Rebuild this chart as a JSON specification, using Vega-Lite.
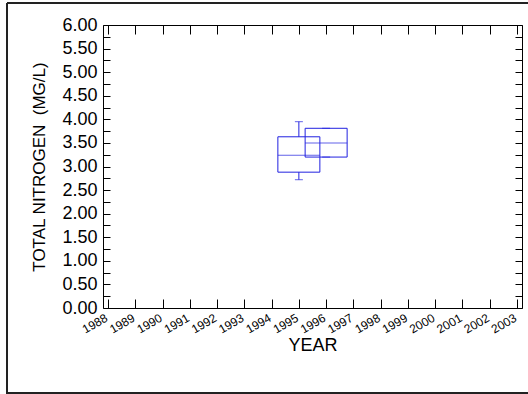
{
  "$schema": "https://vega.github.io/schema/vega-lite/v6.json",
  "autosize": "none",
  "width": 521,
  "height": 390,
  "padding": {"left": 7, "top": 3, "right": 0, "bottom": 1},
  "background": "white",
  "config": {
    "font": "Liberation Sans",
    "view": {"stroke": "#222222", "strokeWidth": 2, "strokeDash": [521, 390, 911, 0]},
    "axis": {"grid": false, "domainColor": "black", "tickColor": "black", "labelColor": "black", "titleColor": "black", "labelFont": "Liberation Sans", "titleFont": "Liberation Sans", "titleFontWeight": "normal", "labelOverlap": false}
  },
  "data": {"values": [
    {"year": 1995, "min": 2.72, "q1": 2.88, "median": 3.24, "q3": 3.63, "max": 3.95},
    {"year": 1996, "min": 3.20, "q1": 3.20, "median": 3.50, "q3": 3.81, "max": 3.81}
  ]},
  "resolve": {"axis": {"x": "independent", "y": "independent"}},
  "layer": [
    {
      "mark": {"type": "rule", "color": "#2020e0", "strokeWidth": 1},
      "encoding": {
        "x": {"field": "year", "type": "quantitative", "scale": {"domain": [1988, 2003], "range": [96, 515], "nice": false, "zero": false},
          "axis": {"orient": "bottom", "offset": -85, "values": [1988,1989,1990,1991,1992,1993,1994,1995,1996,1997,1998,1999,2000,2001,2002,2003], "format": "d", "tickSize": -9, "labelPadding": 21, "labelAngle": -30, "labelAlign": "right", "labelBaseline": "alphabetic", "labelFontSize": 12, "title": "YEAR", "titleFontSize": 18, "titlePadding": 1}},
        "y": {"field": "q3", "type": "quantitative", "scale": {"domain": [0, 6], "range": [305, 22], "nice": false, "zero": true},
          "axis": {"orient": "left", "offset": -96, "values": [0,0.25,0.5,0.75,1,1.25,1.5,1.75,2,2.25,2.5,2.75,3,3.25,3.5,3.75,4,4.25,4.5,4.75,5,5.25,5.5,5.75,6], "labelExpr": "(datum.value * 2) % 1 == 0 ? format(datum.value, '.2f') : ''", "tickSize": -7, "labelPadding": 13, "labelFontSize": 18, "title": "TOTAL NITROGEN \u00a0(MG/L)", "titleFontSize": 17, "titlePadding": 13}},
        "y2": {"field": "max"}
      }
    },
    {
      "mark": {"type": "rule", "color": "#2020e0", "strokeWidth": 1},
      "encoding": {
        "x": {"field": "year", "type": "quantitative",
          "axis": {"orient": "top", "offset": -22, "values": [1988,1989,1990,1991,1992,1993,1994,1995,1996,1997,1998,1999,2000,2001,2002,2003], "labels": false, "tickSize": -9, "title": null}},
        "y": {"field": "min", "type": "quantitative",
          "axis": {"orient": "right", "offset": -6, "values": [0,0.25,0.5,0.75,1,1.25,1.5,1.75,2,2.25,2.5,2.75,3,3.25,3.5,3.75,4,4.25,4.5,4.75,5,5.25,5.5,5.75,6], "labels": false, "tickSize": -7, "title": null}},
        "y2": {"field": "q1"}
      }
    },
    {
      "mark": {"type": "tick", "orient": "horizontal", "color": "#2020e0", "size": 8, "thickness": 1},
      "encoding": {
        "x": {"field": "year", "type": "quantitative", "axis": null},
        "y": {"field": "max", "type": "quantitative", "axis": null}
      }
    },
    {
      "mark": {"type": "tick", "orient": "horizontal", "color": "#2020e0", "size": 8, "thickness": 1},
      "encoding": {
        "x": {"field": "year", "type": "quantitative", "axis": null},
        "y": {"field": "min", "type": "quantitative", "axis": null}
      }
    },
    {
      "mark": {"type": "bar", "width": 42, "fill": null, "fillOpacity": 0, "stroke": "#2020e0", "strokeWidth": 1},
      "encoding": {
        "x": {"field": "year", "type": "quantitative", "axis": null},
        "y": {"field": "q1", "type": "quantitative", "axis": null},
        "y2": {"field": "q3"}
      }
    },
    {
      "mark": {"type": "tick", "orient": "horizontal", "color": "#2020e0", "size": 42, "thickness": 1},
      "encoding": {
        "x": {"field": "year", "type": "quantitative", "axis": null},
        "y": {"field": "median", "type": "quantitative", "axis": null}
      }
    }
  ]
}
